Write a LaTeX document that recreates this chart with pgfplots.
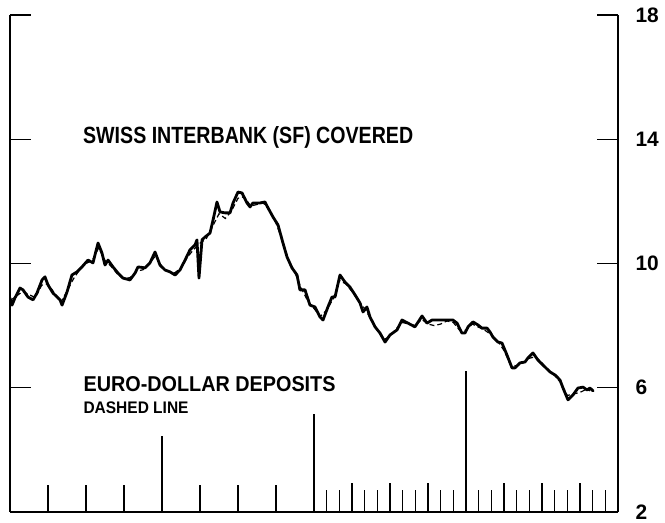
\documentclass[border=0pt]{standalone}
\usepackage{pgfplots}
\pgfplotsset{compat=1.18}
\usepackage{graphicx}
\usepackage{fontspec}
\setmainfont{Liberation Sans}

\begin{document}
\begin{tikzpicture}
\begin{axis}[
  name=ax, scale only axis, width=608bp, height=497bp,
  xmin=0, xmax=48, ymin=2, ymax=18,
  axis x line*=bottom, axis y line*=box,
  xtick=\empty, ytick={2,6,10,14,18},
  ytick pos=both, yticklabel pos=right,
  tick align=inside, major tick length=21bp,
  axis line style={line width=1.6bp, black},
  y tick style={line width=1.4bp, black},
  yticklabel style={font=\bfseries\fontsize{21}{21}\selectfont, xshift=14bp},
  /pgf/number format/assume math mode=true,
  clip=true,
]
% time markers along the bottom
\addplot[ycomb, black, line width=1.3bp, mark=none] coordinates {
 (3,2.88) (6,2.88) (9,2.88) (12,4.45) (15,2.88) (18,2.88) (21,2.88) (24,5.17)
 (25,2.7) (26,2.7) (27,2.92) (28,2.7) (29,2.7) (30,2.92) (31,2.7) (32,2.7)
 (33,2.92) (34,2.7) (35,2.7) (36,6.55) (37,2.7) (38,2.7) (39,2.92) (40,2.7)
 (41,2.7) (42,2.92) (43,2.7) (44,2.7) (45,2.92) (46,2.7) (47,2.7)
};
% Euro-dollar deposits (dashed)
\addplot[black, line width=1.2bp, dash pattern=on 5bp off 3bp] coordinates {
 (0,8.8) (0.5,8.95) (1,9.1) (1.5,9.0) (2,8.9) (2.5,9.3) (3,9.35) (3.5,9.05) (4,8.75)
 (4.5,9.1) (5,9.5) (5.5,9.8) (6,10.0) (6.5,10.1) (7,10.5) (7.5,10.1) (8,9.9) (8.5,9.65)
 (9,9.5) (9.5,9.55) (10,9.75) (10.5,9.8) (11,10.0) (11.5,10.25) (12,9.9) (12.5,9.75)
 (13,9.7) (13.5,9.85) (14,10.2) (14.5,10.45) (15,10.65) (15.5,10.8) (16,11.2) (16.5,11.6)
 (17,11.45) (17.5,11.7) (18,12.1) (18.5,12.15) (19,11.85) (19.5,11.9) (20,11.95) (20.5,11.7)
 (21,11.3) (21.5,10.75) (22,10.1) (22.5,9.7) (23,9.2) (23.5,8.8) (24,8.55) (24.5,8.3)
 (25,8.5) (25.5,8.85) (26,9.45) (26.5,9.35) (27,9.1) (27.5,8.8) (28,8.55) (28.5,8.2)
 (29,7.85) (29.5,7.55) (30,7.65) (30.5,7.9) (31,8.1) (31.5,8.05) (32,8.0) (32.5,8.2)
 (33,8.05) (33.5,8.0) (34,8.05) (34.5,8.15) (35,8.1) (35.5,7.85) (36,7.85) (36.5,8.05)
 (37,7.95) (37.5,7.85) (38,7.7) (38.5,7.5) (39,7.2) (39.5,6.75) (40,6.7) (40.5,6.8)
 (41,6.95) (41.5,7.0) (42,6.8) (42.5,6.55) (43,6.4) (43.5,6.15) (44,5.75) (44.5,5.8)
 (45,5.85) (45.5,5.95) (45.8,5.9)
};
% Swiss interbank (SF) covered (solid)
\addplot[black, line width=2.8bp, line join=round, line cap=round] coordinates {
 (0.00,8.89) (0.16,8.66) (0.39,8.89) (0.79,9.21) (1.03,9.15) (1.42,8.92) (1.82,8.83)
 (2.13,9.05) (2.53,9.47) (2.76,9.57) (3.00,9.31) (3.39,9.05) (3.95,8.83) (4.11,8.66)
 (4.50,9.08) (4.89,9.63) (5.29,9.73) (5.68,9.89) (6.16,10.11) (6.55,10.02) (6.95,10.66)
 (7.26,10.34) (7.50,9.95) (7.74,10.11) (8.13,9.89) (8.53,9.69) (8.92,9.53) (9.47,9.47)
 (9.87,9.69) (10.11,9.89) (10.66,9.86) (11.05,10.02) (11.45,10.37) (11.84,9.95)
 (12.24,9.79) (12.63,9.73) (13.03,9.63) (13.42,9.79) (13.82,10.11) (14.21,10.44)
 (14.61,10.60) (14.76,10.76) (14.92,9.53) (15.16,10.76) (15.39,10.85) (15.79,10.98)
 (16.03,11.40) (16.34,11.98) (16.58,11.66) (16.97,11.63) (17.37,11.63) (17.61,11.95)
 (18.00,12.30) (18.32,12.27) (18.71,11.95) (18.95,11.82) (19.18,11.95) (19.74,11.95)
 (20.13,11.98) (20.37,11.79) (20.76,11.50) (21.16,11.24) (21.55,10.66) (21.87,10.21)
 (22.26,9.86) (22.66,9.63) (22.89,9.15) (23.29,9.15) (23.68,8.66) (24.08,8.60)
 (24.47,8.28) (24.71,8.18) (25.10,8.60) (25.42,8.92) (25.66,8.92) (26.05,9.63)
 (26.45,9.40) (26.84,9.24) (27.24,8.99) (27.63,8.73) (27.87,8.44) (28.18,8.60)
 (28.42,8.28) (28.82,7.96) (29.21,7.76) (29.61,7.47) (30.00,7.70) (30.55,7.86)
 (30.95,8.18) (31.42,8.08) (31.97,7.96) (32.53,8.31) (32.92,8.08) (33.32,8.18)
 (33.95,8.18) (34.50,8.18) (34.97,8.18) (35.29,8.08) (35.68,7.76) (35.92,7.76)
 (36.16,7.96) (36.55,8.12) (36.95,8.02) (37.26,7.92) (37.66,7.92) (37.89,7.80)
 (38.13,7.63) (38.53,7.47) (38.84,7.44) (39.24,7.05) (39.63,6.64) (39.87,6.64)
 (40.26,6.80) (40.66,6.83) (40.89,6.96) (41.29,7.12) (41.68,6.89) (42.08,6.73)
 (42.63,6.51) (43.03,6.41) (43.42,6.25) (43.66,5.99) (44.05,5.61) (44.45,5.77)
 (44.84,5.99) (45.24,6.02) (45.55,5.93) (45.79,5.99) (46.03,5.90)
};
\node[anchor=base west, inner sep=0pt] at (axis cs:5.76,13.87)
  {\resizebox{330bp}{17bp}{\bfseries SWISS INTERBANK (SF) COVERED}};
\node[anchor=base west, inner sep=0pt] at (axis cs:5.79,5.87)
  {\resizebox{252bp}{15bp}{\bfseries EURO-DOLLAR DEPOSITS}};
\node[anchor=base west, inner sep=0pt] at (axis cs:5.79,5.18)
  {\resizebox{105bp}{11.7bp}{\bfseries DASHED LINE}};
\end{axis}
\path ([shift={(-10bp,-8bp)}]ax.south west) rectangle ([shift={(47bp,15bp)}]ax.north east);
\end{tikzpicture}
\end{document}
